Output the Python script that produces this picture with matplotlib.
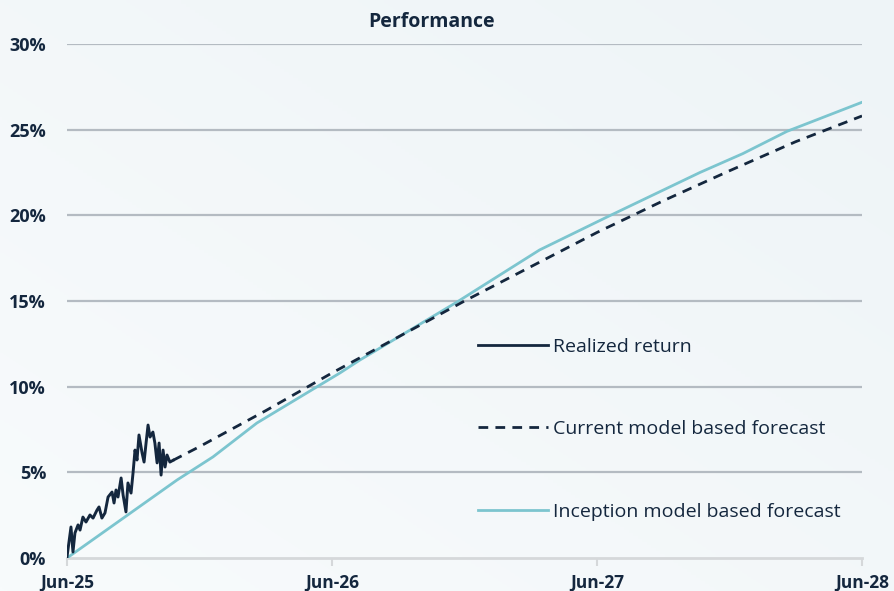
import numpy as np
import matplotlib
matplotlib.use("Agg")
import matplotlib.pyplot as plt
from matplotlib.lines import Line2D

plt.rcParams['font.family'] = ['Open Sans', 'DejaVu Sans']

# ---- data (months since Jun-25, percent) ----
realized_m = [0, 0.18, 0.27, 0.36, 0.50, 0.59, 0.72, 0.86, 1.04, 1.18, 1.36, 1.45, 1.58, 1.72,
              1.86, 2.04, 2.13, 2.22, 2.31, 2.45, 2.54, 2.67, 2.76, 2.90, 2.99, 3.08, 3.17,
              3.26, 3.40, 3.49, 3.58, 3.67, 3.76, 3.89, 3.98, 4.08, 4.17, 4.26, 4.35, 4.44,
              4.53, 4.66, 4.80]
realized_v = [0.06, 1.81, 0.35, 1.46, 1.93, 1.63, 2.39, 2.10, 2.51, 2.33, 2.80, 2.98, 2.33, 2.63,
              3.56, 3.85, 3.21, 3.97, 3.56, 4.67, 3.68, 2.69, 4.38, 3.79, 4.96, 6.30, 5.72,
              7.18, 6.13, 5.60, 6.71, 7.76, 7.06, 7.35, 6.71, 5.55, 6.71, 4.84, 6.30, 5.31,
              6.01, 5.60, 5.70]

current_m = [4.8, 6, 9, 12, 15, 18, 21, 24, 27, 30, 33, 36]
current_v = [5.7, 6.5, 8.6, 10.8, 12.9, 15.0, 17.0, 19.0, 20.85, 22.6, 24.3, 25.8]

inception_m = [0, 4.98, 6.61, 8.6, 12.36, 13.27, 17.66, 21.4, 24.45, 28.66, 30.6, 32.6, 36]
inception_v = [0, 4.55, 5.90, 7.88, 10.8, 11.56, 14.94, 17.98, 19.9, 22.5, 23.6, 24.9, 26.6]

x_ticks = [0, 12, 24, 36]
x_labels = ["Jun-25", "Jun-26", "Jun-27", "Jun-28"]
y_ticks = [0, 5, 10, 15, 20, 25, 30]
y_labels = ["0%", "5%", "10%", "15%", "20%", "25%", "30%"]

labels = ["Realized return", "Current model based forecast", "Inception model based forecast"]

navy = "#14273e"
teal = "#7cc5cf"
grid_c = "#b4bbc2"

fig = plt.figure(figsize=(8.95, 5.91), dpi=100)
fig.patch.set_facecolor("#f1f6f8")

# subtle background gradient
bg = fig.add_axes([0, 0, 1, 1], zorder=-10)
gx = np.linspace(0, 1, 200)
gy = np.linspace(0, 1, 200)
GX, GY = np.meshgrid(gx, gy)
grad = 0.5 * GX + 0.5 * (1 - GY)
bg.imshow(grad, cmap=matplotlib.colors.LinearSegmentedColormap.from_list("g", ["#f8fbfc", "#eef4f7"]),
          aspect="auto", extent=[0, 1, 0, 1])
bg.axis("off")

ax = fig.add_axes([67 / 895, 33 / 591, (862 - 67) / 895, (558 - 44) / 591])
ax.set_facecolor("none")

ax.set_xlim(0, 36)
ax.set_ylim(0, 30)

for yv in y_ticks[1:]:
    ax.axhline(yv, color=grid_c, lw=1.6, zorder=1)

for s in ["top", "right", "left"]:
    ax.spines[s].set_visible(False)
ax.spines["bottom"].set_color("#d5d8da")
ax.spines["bottom"].set_linewidth(2)

ax.plot(inception_m, inception_v, color=teal, lw=2.0, zorder=3, label=labels[2])
ax.plot(current_m, current_v, color=navy, lw=2.0, dashes=(3.5, 2.6), zorder=4, label=labels[1])
ax.plot(realized_m, realized_v, color=navy, lw=2.1, zorder=5, label=labels[0])

ax.set_xticks(x_ticks)
ax.set_xticklabels(x_labels, fontsize=12.5, fontweight="bold", color=navy)
ax.set_yticks(y_ticks)
ax.set_yticklabels(y_labels, fontsize=13, fontweight="bold", color=navy)
ax.tick_params(axis="x", length=6, width=1.5, color="#d5d8da", pad=5)
ax.tick_params(axis="y", length=0, pad=15)

ax.set_title("Performance", fontsize=14, fontweight="bold", color=navy, pad=12, x=0.459)

handles = [Line2D([], [], color=navy, lw=2.0),
           Line2D([], [], color=navy, lw=2.0, dashes=(3.5, 2.6)),
           Line2D([], [], color=teal, lw=2.0)]
leg = ax.legend(handles, labels, loc="upper left", bbox_to_anchor=(0.495, 0.463),
                frameon=False, fontsize=14, handlelength=3.6, handletextpad=0.27,
                labelspacing=3.33, labelcolor=navy)

fig.savefig("out.png", dpi=100, facecolor=fig.get_facecolor())
